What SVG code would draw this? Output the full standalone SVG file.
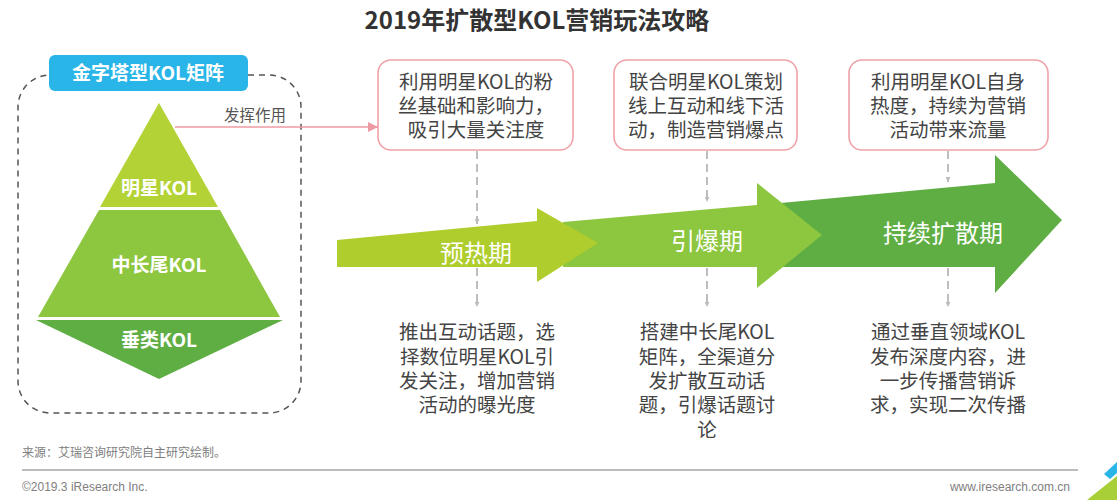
<svg xmlns="http://www.w3.org/2000/svg" width="1117" height="500" viewBox="0 0 1117 500">
<style>
.cn{font-family:"Noto Sans CJK SC","Liberation Sans",sans-serif;}
.title{font-size:24px;font-weight:bold;fill:#333;}
.wb{font-size:19px;font-weight:bold;fill:#fff;}
.box{fill:#fff;stroke:#EFA2A9;stroke-width:1.6;}
.bt{font-size:19.5px;fill:#444;}
.ph{font-size:24px;fill:#fff;}
.gd{stroke:#BDBDBD;stroke-width:2;stroke-dasharray:8,5;fill:none;}
.ft{font-family:"Liberation Sans",Arial,"Noto Sans CJK SC",sans-serif;font-size:12px;fill:#808080;}
</style>
<defs>
<marker id="ga" viewBox="0 0 10 10" refX="10" refY="5" markerWidth="5" markerHeight="5" orient="auto" markerUnits="userSpaceOnUse">
<path d="M0,0 L10,5 L0,10 Z" fill="#BDBDBD"/>
</marker>
<marker id="pa" viewBox="0 0 10 10" refX="10" refY="5" markerWidth="10" markerHeight="10" orient="auto" markerUnits="userSpaceOnUse">
<path d="M0,0 L10,5 L0,10 Z" fill="#EE9AA2"/>
</marker>
</defs>
<rect width="1117" height="500" fill="#fff"/>
<g id="title"><text class="cn title" x="537" y="29" text-anchor="middle">2019年扩散型KOL营销玩法攻略</text></g>

<g id="matrix-frame">
<rect x="18" y="75" width="283" height="338" rx="32" ry="32" fill="none" stroke="#555" stroke-width="1.5" stroke-dasharray="6,5"/>
<rect x="49" y="55" width="199" height="36" rx="6" fill="#29B5E8"/>
<text class="cn wb" x="148" y="80" text-anchor="middle" font-size="18">金字塔型KOL矩阵</text>
</g>
<g id="pyr-star">
<polygon points="159,103 218,207 100,207" fill="#B2D235"/>
<text class="cn wb" x="159" y="195" text-anchor="middle">明星KOL</text>
</g>
<g id="pyr-mid">
<polygon points="99,210 220,210 280,317 38,317" fill="#8DC63F"/>
<text class="cn wb" x="159" y="272" text-anchor="middle">中长尾KOL</text>
</g>
<g id="pyr-vert">
<polygon points="36,320 283,320 159,379" fill="#5FAE44"/>
<text class="cn wb" x="159" y="347" text-anchor="middle">垂类KOL</text>
</g>

<g id="phase3">
<polygon points="770,204 995,183 995,155 1062,220 995,293 995,267 770,267" fill="#5FAE44"/>
<text class="cn ph" x="943" y="242" text-anchor="middle">持续扩散期</text>
</g>
<g id="phase2">
<polygon points="563,222 757,205 757,183 822,235 757,288 757,267 563,267" fill="#8DC63F"/>
<text class="cn ph" x="707" y="250" text-anchor="middle">引爆期</text>
</g>
<g id="phase1">
<polygon points="337,240 537,221 537,208 598,243 537,282 537,267 337,267" fill="#AFCD2D"/>
<text class="cn ph" x="476" y="262" text-anchor="middle">预热期</text>
</g>

<g id="box1">
<rect class="box" x="378" y="60" width="195" height="90" rx="13"/>
<text class="cn bt" text-anchor="middle"><tspan x="476" y="89">利用明星KOL的粉</tspan><tspan x="476" y="113">丝基础和影响力，</tspan><tspan x="476" y="137">吸引大量关注度</tspan></text>
</g>
<g id="box2">
<rect class="box" x="614" y="60" width="183" height="90" rx="13"/>
<text class="cn bt" text-anchor="middle"><tspan x="706" y="89">联合明星KOL策划</tspan><tspan x="706" y="113">线上互动和线下活</tspan><tspan x="706" y="137">动，制造营销爆点</tspan></text>
</g>
<g id="box3">
<rect class="box" x="849" y="60" width="199" height="90" rx="13"/>
<text class="cn bt" text-anchor="middle"><tspan x="948" y="89">利用明星KOL自身</tspan><tspan x="948" y="113">热度，持续为营销</tspan><tspan x="948" y="137">活动带来流量</tspan></text>
</g>

<g id="desc1"><text class="cn bt" text-anchor="middle"><tspan x="477" y="339">推出互动话题，选</tspan><tspan x="477" y="364">择数位明星KOL引</tspan><tspan x="477" y="388">发关注，增加营销</tspan><tspan x="477" y="412">活动的曝光度</tspan></text></g>
<g id="desc2"><text class="cn bt" text-anchor="middle"><tspan x="707" y="339">搭建中长尾KOL</tspan><tspan x="707" y="364">矩阵，全渠道分</tspan><tspan x="707" y="388">发扩散互动话</tspan><tspan x="707" y="412">题，引爆话题讨</tspan><tspan x="707" y="437">论</tspan></text></g>
<g id="desc3"><text class="cn bt" text-anchor="middle"><tspan x="948" y="339">通过垂直领域KOL</tspan><tspan x="948" y="364">发布深度内容，进</tspan><tspan x="948" y="388">一步传播营销诉</tspan><tspan x="948" y="412">求，实现二次传播</tspan></text></g>

<g id="connectors">
<line x1="175" y1="127" x2="378" y2="127" stroke="#EE9AA2" stroke-width="1.6" marker-end="url(#pa)"/>
<text class="cn" x="255" y="121" text-anchor="middle" font-size="15.5" fill="#555">发挥作用</text>
<line class="gd" x1="477" y1="151" x2="477" y2="224" marker-end="url(#ga)"/>
<line class="gd" x1="477" y1="268" x2="477" y2="307" marker-end="url(#ga)"/>
<line class="gd" x1="707" y1="151" x2="707" y2="202" marker-end="url(#ga)"/>
<line class="gd" x1="707" y1="268" x2="707" y2="307" marker-end="url(#ga)"/>
<line class="gd" x1="948" y1="151" x2="948" y2="182" marker-end="url(#ga)"/>
<line class="gd" x1="948" y1="268" x2="948" y2="307" marker-end="url(#ga)"/>
</g>

<g id="footer">
<text class="ft" x="22" y="457">来源：艾瑞咨询研究院自主研究绘制。</text>
<line x1="22" y1="470" x2="1078" y2="470" stroke="#A6A6A6" stroke-width="1.5"/>
<text class="ft" x="22" y="491">©2019.3 iResearch Inc.</text>
<text class="ft" x="1070" y="491" text-anchor="end">www.iresearch.com.cn</text>
<polygon points="1104,474 1117,462 1117,473 1110,479" fill="#29B5E8"/>
<polygon points="1087,500 1117,476 1117,500" fill="#A8CF38"/>
</g>
</svg>
